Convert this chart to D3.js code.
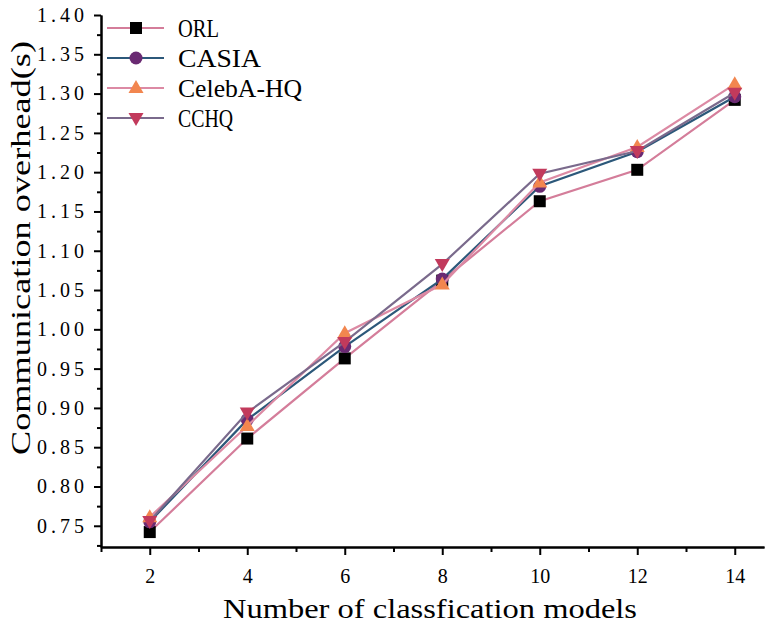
<!DOCTYPE html>
<html>
<head>
<meta charset="utf-8">
<script src="https://cdn.jsdelivr.net/npm/d3@7"></script>
<style>
  html, body { margin: 0; padding: 0; background: #fff; }
  svg { display: block; }
  text { font-family: "Liberation Serif", "DejaVu Serif", serif; fill: #000; }
</style>
</head>
<body>
<svg id="chart" width="768" height="630"></svg>
<script>
// ---- data ----
const xValues = [2, 4, 6, 8, 10, 12, 14];
const seriesNames = ["ORL", "CASIA", "CelebA-HQ", "CCHQ"];
const orl      = [0.742, 0.861, 0.963, 1.062, 1.163, 1.203, 1.292];
const casia    = [0.755, 0.885, 0.978, 1.064, 1.182, 1.226, 1.296];
const celeba   = [0.761, 0.877, 0.995, 1.057, 1.187, 1.232, 1.312];
const cchq     = [0.756, 0.894, 0.984, 1.083, 1.198, 1.227, 1.301];
const xMajorTicks = [2, 4, 6, 8, 10, 12, 14];
const xMinorTicks = [1, 3, 5, 7, 9, 11, 13];
const yMajorTicks = [0.75, 0.80, 0.85, 0.90, 0.95, 1.00, 1.05, 1.10, 1.15, 1.20, 1.25, 1.30, 1.35, 1.40];
const yMinorTicks = [0.725, 0.775, 0.825, 0.875, 0.925, 0.975, 1.025, 1.075, 1.125, 1.175, 1.225, 1.275, 1.325, 1.375];
const xTitle = "Number of classfication models";
const yTitle = "Communication overhead(s)";

// ---- styles ----
const lineColors   = ["#d47d9a", "#2c587a", "#dc8aa4", "#7a6a8c"];
const markerColors = ["#000000", "#6a2a72", "#f2864f", "#c23a5c"];
const markerTypes  = ["square", "circle", "triangle", "triangleDown"];

const svg = d3.select("#chart");
const x = d3.scaleLinear().domain([1, 14.6]).range([101, 764]);
const y = d3.scaleLinear().domain([0.723, 1.40]).range([547, 15]);

const data = [orl, casia, celeba, cchq];

function drawMarker(g, type, cx, cy, color) {
  if (type === "square") {
    g.append("rect").attr("x", cx - 6).attr("y", cy - 6).attr("width", 12).attr("height", 12)
      .attr("fill", color);
  } else if (type === "circle") {
    g.append("circle").attr("cx", cx).attr("cy", cy).attr("r", 6.5).attr("fill", color);
  } else if (type === "triangle") {
    g.append("path").attr("d", `M${cx},${cy - 8} L${cx + 7.5},${cy + 5} L${cx - 7.5},${cy + 5} Z`)
      .attr("fill", color);
  } else {
    g.append("path").attr("d", `M${cx},${cy + 8} L${cx + 7.5},${cy - 5} L${cx - 7.5},${cy - 5} Z`)
      .attr("fill", color);
  }
}

// ---- series ----
const line = d3.line().x((d, i) => x(xValues[i])).y(d => y(d));
data.forEach((vals, s) => {
  const g = svg.append("g");
  g.append("path").datum(vals).attr("d", line)
    .attr("fill", "none").attr("stroke", lineColors[s]).attr("stroke-width", 2.2);
  vals.forEach((v, i) => drawMarker(g, markerTypes[s], x(xValues[i]), y(v), markerColors[s]));
});

// ---- axes ----
const axisStyle = g => {
  g.select(".domain").attr("stroke", "#000").attr("stroke-width", 2);
  g.selectAll(".tick line").attr("stroke", "#000").attr("stroke-width", 2);
};

svg.append("g").attr("transform", "translate(101,0)")
  .call(d3.axisLeft(y).tickValues(yMinorTicks).tickSize(4).tickFormat("").tickSizeOuter(0))
  .call(axisStyle);
const yAx = svg.append("g").attr("transform", "translate(101,0)")
  .call(d3.axisLeft(y).tickValues(yMajorTicks).tickSize(7).tickPadding(10).tickSizeOuter(0).tickFormat(d3.format(".2f")))
  .call(axisStyle);
yAx.selectAll(".tick text").attr("font-size", 20)
  .attr("textLength", 47).attr("lengthAdjust", "spacing")
  .attr("font-family", "Liberation Serif");

svg.append("g").attr("transform", "translate(0,547)")
  .call(d3.axisBottom(x).tickValues(xMinorTicks).tickSize(5).tickFormat("").tickSizeOuter(0))
  .call(axisStyle);
const xAx = svg.append("g").attr("transform", "translate(0,547)")
  .call(d3.axisBottom(x).tickValues(xMajorTicks).tickSize(8).tickPadding(14).tickSizeOuter(0))
  .call(axisStyle);
xAx.selectAll(".tick text").attr("font-size", 20).attr("font-family", "Liberation Serif");

// ---- titles ----
svg.append("text").attr("x", 430).attr("y", 618).attr("text-anchor", "middle")
  .attr("font-size", 28).attr("textLength", 414).attr("lengthAdjust", "spacingAndGlyphs")
  .text(xTitle);
svg.append("text").attr("transform", "translate(30,248) rotate(-90)").attr("text-anchor", "middle")
  .attr("font-size", 28).attr("textLength", 414).attr("lengthAdjust", "spacingAndGlyphs")
  .text(yTitle);

// ---- legend ----
const legendWidths = [41, 83, 124, 55];
seriesNames.forEach((name, s) => {
  const cy = 28 + s * 30;
  const g = svg.append("g");
  g.append("line").attr("x1", 107).attr("x2", 164).attr("y1", cy).attr("y2", cy)
    .attr("stroke", lineColors[s]).attr("stroke-width", 2.2);
  drawMarker(g, markerTypes[s], 136, cy, markerColors[s]);
  g.append("text").attr("x", 178).attr("y", cy + 9).attr("font-size", 26)
    .attr("textLength", legendWidths[s]).attr("lengthAdjust", "spacingAndGlyphs")
    .text(name);
});
</script>
</body>
</html>
